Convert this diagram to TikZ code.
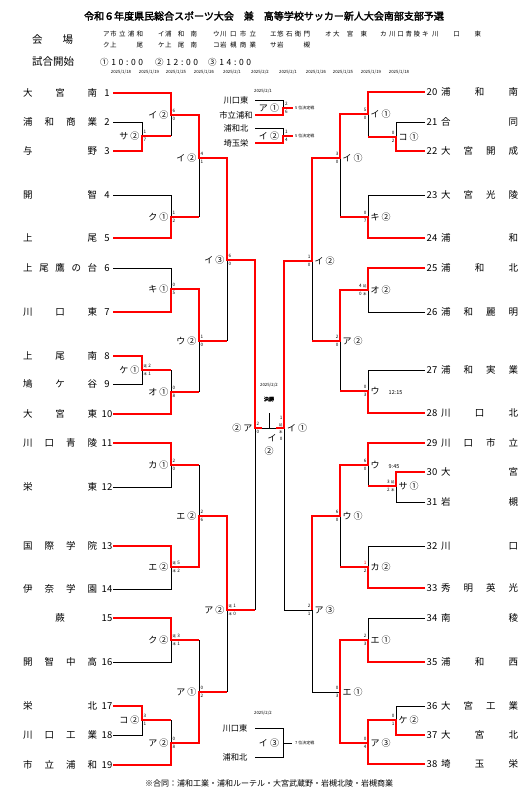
\documentclass[tikz,border=0pt]{standalone}
\usepackage{fontspec}
\setmainfont{Noto Sans CJK JP}[AutoFakeBold=2.5]
\newcommand\ex{{\fontsize{3.4}{3.4}\selectfont 延}}
\newcommand\pk{{\fontsize{3.4}{3.4}\selectfont 本}}
\newcommand\gp{\hspace{1.3pt}}
\newcommand\tm[1]{{\fontsize{5.5}{5.5}\selectfont #1}}
\begin{document}
\begin{tikzpicture}[x=1pt,y=-1pt,
  bk/.style={line width=0.75pt,line join=miter},
  rd/.style={line width=2.1pt,red,line join=miter},
  tn/.style={font=\fontsize{9.5}{9.5}\selectfont,inner sep=0pt},
  lbl/.style={font=\fontsize{9}{9}\selectfont,inner sep=0pt},
  sc/.style={font=\fontsize{4.6}{8.2}\selectfont,inner sep=0pt},
  vn/.style={font=\fontsize{6.5}{6.5}\selectfont,inner sep=0pt,anchor=west},
  dt/.style={font=\fontsize{4.3}{4.3}\selectfont,inner sep=0pt},
  pn/.style={font=\fontsize{8.3}{8.3}\selectfont,inner sep=0pt},
  tiny/.style={font=\fontsize{4}{4}\selectfont,inner sep=0pt,anchor=west}]
\useasboundingbox (0,0) rectangle (532,798);
\fill[white] (0,0) rectangle (532,798);

\newcommand\LT[3]{\node[tn,anchor=west] (ln#1) at (23,#2) {\hbox to 74pt{#3}};
  \node[tn] (lnum#1) at (107,#2) {#1};}
\newcommand\RT[3]{\node[tn] (rnum#1) at (432,#2) {#1};
  \node[tn,anchor=west] (rn#1) at (441,#2) {\hbox to 77pt{#3}};}
\newcommand\LM[5]{\node[lbl,anchor=east] (L#1x#2) at (#1-2.5,#2) {#3};
  \node[sc,anchor=west,align=left] (L#1x#2s) at (#1+1.4,#2) {#4\\#5};}
\newcommand\RM[5]{\node[lbl,anchor=west] (R#1x#2) at (#1+2.5,#2) {#3};
  \node[sc,anchor=east,align=right] (R#1x#2s) at (#1-1.4,#2) {#4\\#5};}

% ---------- header ----------
\node[font=\fontsize{10}{10}\selectfont\bfseries,inner sep=0pt] (title) at (264,16)
  {令和６年度県民総合スポーツ大会　兼　高等学校サッカー新人大会南部支部予選};
\node[font=\fontsize{10.5}{10.5}\selectfont,inner sep=0pt,anchor=west] (kaijo) at (32,40) {\hbox to 41pt{会\hfil 場}};
\node[font=\fontsize{10.5}{10.5}\selectfont,inner sep=0pt,anchor=west] (shiai) at (32,62) {試合開始};
\node[vn] (va) at (103,34) {ア}; \node[vn] (van) at (110,34) {\hbox to 33pt{市\hfil 立\hfil 浦\hfil 和}};
\node[vn] (vi) at (158,34) {イ}; \node[vn] (vin) at (165,34) {\hbox to 32pt{浦\hfil 和\hfil 南}};
\node[vn] (vu) at (213,34) {ウ}; \node[vn] (vun) at (220,34) {\hbox to 36pt{川\hfil 口\hfil 市\hfil 立}};
\node[vn] (ve) at (270,34) {エ}; \node[vn] (ven) at (277,34) {\hbox to 33pt{悠\hfil 石\hfil 衛\hfil 門}};
\node[vn] (vo) at (325,34) {オ}; \node[vn] (von) at (333,34) {\hbox to 34pt{大\hfil 宮\hfil 東}};
\node[vn] (vk) at (380,34) {カ}; \node[vn] (vkn) at (389,34) {\hbox to 31pt{川\hfil 口\hfil 青\hfil 陵}};
\node[vn] (vki) at (422,34) {キ}; \node[vn] (vkin) at (432,34) {\hbox to 49pt{川\hfil 口\hfil 東}};
\node[vn] (vku) at (103,45) {ク}; \node[vn] (vkun) at (110,45) {\hbox to 33pt{上\hfil 尾}};
\node[vn] (vke) at (158,45) {ケ}; \node[vn] (vken) at (165,45) {\hbox to 32pt{上\hfil 尾\hfil 南}};
\node[vn] (vko) at (213,45) {コ}; \node[vn] (vkon) at (220,45) {\hbox to 36pt{岩\hfil 槻\hfil 商\hfil 業}};
\node[vn] (vsa) at (270,45) {サ}; \node[vn] (vsan) at (277,45) {\hbox to 33pt{岩\hfil 槻}};
\node[font=\fontsize{8.5}{8.5}\selectfont,inner sep=0pt,anchor=west] (t1) at (100,62) {\hbox to 43pt{①\hfil 1\hfil 0\hfil :\hfil 0\hfil 0}};
\node[font=\fontsize{8.5}{8.5}\selectfont,inner sep=0pt,anchor=west] (t2) at (155,62) {\hbox to 43pt{②\hfil 1\hfil 2\hfil :\hfil 0\hfil 0}};
\node[font=\fontsize{8.5}{8.5}\selectfont,inner sep=0pt,anchor=west] (t3) at (208,62) {\hbox to 43pt{③\hfil 1\hfil 4\hfil :\hfil 0\hfil 0}};
\node[dt] (da1) at (121,72) {2025/1/18};
\node[dt] (da2) at (149,72) {2025/1/19};
\node[dt] (da3) at (176,72) {2025/1/25};
\node[dt] (da4) at (204,72) {2025/1/26};
\node[dt] (da5) at (232,72) {2025/2/1};
\node[dt] (da6) at (260,72) {2025/2/2};
\node[dt] (da7) at (288,72) {2025/2/1};
\node[dt] (da8) at (316,72) {2025/1/26};
\node[dt] (da9) at (343,72) {2025/1/25};
\node[dt] (da10) at (371,72) {2025/1/19};
\node[dt] (da11) at (399,72) {2025/1/18};

% ---------- teams ----------
\LT{1}{93}{大\hfil 宮\hfil 南}
\LT{2}{122}{浦\hfil 和\hfil 商\hfil 業}
\LT{3}{151}{与\hfil 野}
\LT{4}{195}{開\hfil 智}
\LT{5}{238}{上\hfil 尾}
\LT{6}{268}{上\hfil 尾\hfil 鷹\hfil の\hfil 台}
\LT{7}{312}{川\hfil 口\hfil 東}
\LT{8}{356}{上\hfil 尾\hfil 南}
\LT{9}{384}{鳩\hfil ケ\hfil 谷}
\LT{10}{414}{大\hfil 宮\hfil 東}
\LT{11}{443}{川\hfil 口\hfil 青\hfil 陵}
\LT{12}{487}{栄\hfil 東}
\LT{13}{546}{国\hfil 際\hfil 学\hfil 院}
\LT{14}{589}{伊\hfil 奈\hfil 学\hfil 園}
\LT{15}{618}{\hfil 蕨\hfil}
\LT{16}{662}{開\hfil 智\hfil 中\hfil 高}
\LT{17}{706}{栄\hfil 北}
\LT{18}{735}{川\hfil 口\hfil 工\hfil 業}
\LT{19}{765}{市\hfil 立\hfil 浦\hfil 和}
\RT{20}{92}{浦\hfil 和\hfil 南}
\RT{21}{122}{合\hfil 同}
\RT{22}{151}{大\hfil 宮\hfil 開\hfil 成}
\RT{23}{195}{大\hfil 宮\hfil 光\hfil 陵}
\RT{24}{238}{浦\hfil 和}
\RT{25}{268}{浦\hfil 和\hfil 北}
\RT{26}{312}{浦\hfil 和\hfil 麗\hfil 明}
\RT{27}{370}{浦\hfil 和\hfil 実\hfil 業}
\RT{28}{413}{川\hfil 口\hfil 北}
\RT{29}{443}{川\hfil 口\hfil 市\hfil 立}
\RT{30}{472}{大\hfil 宮}
\RT{31}{502}{岩\hfil 槻}
\RT{32}{546}{川\hfil 口}
\RT{33}{588}{秀\hfil 明\hfil 英\hfil 光}
\RT{34}{618}{南\hfil 稜}
\RT{35}{662}{浦\hfil 和\hfil 西}
\RT{36}{706}{大\hfil 宮\hfil 工\hfil 業}
\RT{37}{735}{大\hfil 宮\hfil 北}
\RT{38}{764}{埼\hfil 玉\hfil 栄}

% ---------- left bracket: black ----------
\draw[bk] (113,122) -- (142,122) -- (142,136);
\draw[bk] (171,136) -- (171,115);
\draw[bk] (113,195) -- (171,195) -- (171,217);
\draw[bk] (199,158) -- (199,217);
\draw[bk] (113,268) -- (171,268) -- (171,289);
\draw[bk] (113,384) -- (142,384) -- (142,370);
\draw[bk] (171,370) -- (171,392);
\draw[bk] (199,341) -- (199,392);
\draw[bk] (227,260) -- (227,341);
\draw[bk] (255,428) -- (255,610);
\draw[bk] (113,487) -- (171,487) -- (171,465);
\draw[bk] (113,589) -- (171,589) -- (171,567);
\draw[bk] (199,465) -- (199,516);
\draw[bk] (113,662) -- (171,662) -- (171,640);
\draw[bk] (113,735) -- (142,735) -- (142,720);
\draw[bk] (171,720) -- (171,743);
\draw[bk] (199,640) -- (199,692);
\draw[bk] (227,610) -- (227,692);
% ---------- right bracket: black ----------
\draw[bk] (425,122) -- (396,122) -- (396,137);
\draw[bk] (368,137) -- (368,114);
\draw[bk] (425,195) -- (368,195) -- (368,217);
\draw[bk] (340,158) -- (340,217);
\draw[bk] (425,312) -- (368,312) -- (368,290);
\draw[bk] (425,370) -- (368,370) -- (368,391);
\draw[bk] (340,341) -- (340,391);
\draw[bk] (312,261) -- (312,341);
\draw[bk] (284,428) -- (284,610) -- (312,610) -- (312,692) -- (340,692);
\draw[bk] (425,502) -- (396,502) -- (396,486);
\draw[bk] (368,465) -- (368,486);
\draw[bk] (425,546) -- (368,546) -- (368,567);
\draw[bk] (340,516) -- (340,567);
\draw[bk] (425,618) -- (368,618) -- (368,640);
\draw[bk] (425,706) -- (396,706) -- (396,720);
% final
\draw[bk] (255,428) -- (284,428);
\draw[bk] (269,413) -- (269,428);

% ---------- left bracket: red ----------
\draw[rd] (113,151) -- (142,151) -- (142,136) -- (171,136);
\draw[rd] (113,93) -- (171,93) -- (171,115) -- (199,115) -- (199,158) -- (227,158) -- (227,260) -- (255,260) -- (255,428) -- (262,428);
\draw[rd] (113,238) -- (171,238) -- (171,217) -- (199,217);
\draw[rd] (113,312) -- (171,312) -- (171,289) -- (199,289) -- (199,341) -- (227,341);
\draw[rd] (113,356) -- (142,356) -- (142,370) -- (171,370);
\draw[rd] (113,414) -- (171,414) -- (171,392) -- (199,392);
\draw[rd] (113,443) -- (171,443) -- (171,465) -- (199,465);
\draw[rd] (113,546) -- (171,546) -- (171,567) -- (199,567) -- (199,516) -- (227,516) -- (227,610) -- (255,610);
\draw[rd] (113,618) -- (171,618) -- (171,640) -- (199,640);
\draw[rd] (113,706) -- (142,706) -- (142,720) -- (171,720);
\draw[rd] (113,765) -- (171,765) -- (171,743) -- (199,743) -- (199,692) -- (227,692);
% ---------- right bracket: red ----------
\draw[rd] (425,151) -- (396,151) -- (396,137) -- (368,137);
\draw[rd] (425,92) -- (368,92) -- (368,114) -- (340,114) -- (340,158) -- (312,158) -- (312,261) -- (284,261) -- (284,428) -- (276,428);
\draw[rd] (425,238) -- (368,238) -- (368,217) -- (340,217);
\draw[rd] (425,268) -- (368,268) -- (368,290) -- (340,290) -- (340,341) -- (312,341);
\draw[rd] (425,413) -- (368,413) -- (368,391) -- (340,391);
\draw[rd] (425,472) -- (396,472) -- (396,486) -- (368,486);
\draw[rd] (425,443) -- (368,443) -- (368,465) -- (340,465) -- (340,516) -- (312,516) -- (312,610);
\draw[rd] (425,588) -- (368,588) -- (368,567) -- (340,567);
\draw[rd] (425,662) -- (368,662) -- (368,640) -- (340,640) -- (340,743) -- (368,743);
\draw[rd] (425,735) -- (396,735) -- (396,720) -- (368,720) -- (368,764) -- (425,764);

% ---------- left labels ----------
\LM{142}{136}{サ ②}{1}{7}
\LM{171}{115}{イ ②}{6}{0}
\LM{171}{217}{ク ①}{1}{2}
\LM{199}{158}{イ ②}{4}{1}
\LM{171}{289}{キ ①}{0}{5}
\LM{142}{370}{ケ ①}{\ex\gp 2}{\pk\gp 1}
\LM{171}{392}{オ ①}{0}{8}
\LM{199}{341}{ウ ②}{1}{0}
\LM{227}{260}{イ ③}{6}{0}
\LM{255}{428}{② ア}{2}{0}
\LM{171}{465}{カ ①}{2}{0}
\LM{199}{516}{エ ②}{2}{6}
\LM{171}{567}{エ ②}{\ex\gp 5}{\pk\gp 2}
\LM{227}{610}{ア ②}{\ex\gp 1}{\pk\gp 0}
\LM{171}{640}{ク ②}{\ex\gp 3}{\pk\gp 1}
\LM{142}{720}{コ ②}{3}{1}
\LM{199}{692}{ア ①}{0}{2}
\LM{171}{743}{ア ②}{0}{8}
% ---------- right labels ----------
\RM{396}{137}{コ ①}{0}{2}
\RM{368}{114}{イ ①}{5}{0}
\RM{368}{217}{キ ②}{0}{7}
\RM{340}{158}{イ ①}{3}{0}
\RM{368}{290}{オ ②}{4\gp\ex}{0\gp\pk}
\RM{368}{391}{ウ\quad\tm{12:15}}{0}{3}
\RM{340}{341}{ア ②}{2}{0}
\RM{312}{261}{イ ②}{1}{0}
\RM{396}{486}{サ ①}{3\gp\ex}{2\gp\pk}
\RM{368}{465}{ウ\quad\tm{9:45}}{6}{0}
\RM{368}{567}{カ ②}{\textcolor{red}{1}}{2}
\RM{340}{516}{ウ ①}{6}{0}
\RM{368}{640}{エ ①}{2}{3}
\RM{396}{720}{ケ ②}{0}{1}
\RM{368}{743}{ア ③}{0}{4}
\RM{340}{692}{エ ①}{0}{3}
\RM{312}{610}{ア ③}{2}{1}
% right semifinal (stacked score)
\node[lbl,anchor=west] (rsemi) at (287,428) {イ ①};
\node[font=\fontsize{4.6}{7.2}\selectfont,inner sep=0pt,anchor=east,align=right] (rss) at (282.7,428.3) {1\\\ex\\\pk\\0};
% final
\node[dt] (fdate) at (269,385) {2025/2/2};
\node[font=\fontsize{5}{5}\selectfont\bfseries,inner sep=0pt] (final) at (269,399) {決勝};
\node[lbl] (fi) at (272,438) {イ};
\node[lbl] (fn) at (269,451.5) {②};

% ---------- placement matches (5th) ----------
\node[dt] (pd1) at (263,91) {2025/2/1};
\node[pn] (p1) at (236,100) {川口東};
\node[pn] (p2) at (236,115) {市立浦和};
\node[pn] (p3) at (236,128) {浦和北};
\node[pn] (p4) at (236,143) {埼玉栄};
\draw[bk] (255,100) -- (283,100) -- (283,108);
\draw[bk] (255,128) -- (283,128) -- (283,136);
\draw[rd] (255,115) -- (283,115) -- (283,108) -- (293,108);
\draw[rd] (255,143) -- (283,143) -- (283,136) -- (293,136);
\node[lbl] (pm1) at (269,108) {ア ①};
\node[lbl] (pm2) at (269,136) {イ ②};
\node[sc,anchor=west,align=left] (pm1s) at (285,108) {2\\6};
\node[sc,anchor=west,align=left] (pm2s) at (285,136) {1\\4};
\node[tiny] (pm1l) at (295,108) {5 位決定戦};
\node[tiny] (pm2l) at (295,136) {5 位決定戦};
% ---------- placement match (7th) ----------
\node[dt] (pd2) at (263,713) {2025/2/2};
\node[pn] (p5) at (235,728) {川口東};
\node[pn] (p6) at (235,757) {浦和北};
\draw[bk] (255,728) -- (283,728) -- (283,757) -- (255,757);
\draw[bk] (283,743) -- (292,743);
\node[lbl] (pm3) at (269,743) {イ ③};
\node[tiny] (pm3l) at (295,743) {7 位決定戦};

% ---------- footnote ----------
\node[font=\fontsize{8}{8}\selectfont,inner sep=0pt] (foot) at (269,783)
  {※合同：浦和工業・浦和ルーテル・大宮武蔵野・岩槻北陵・岩槻商業};
\end{tikzpicture}
\end{document}
